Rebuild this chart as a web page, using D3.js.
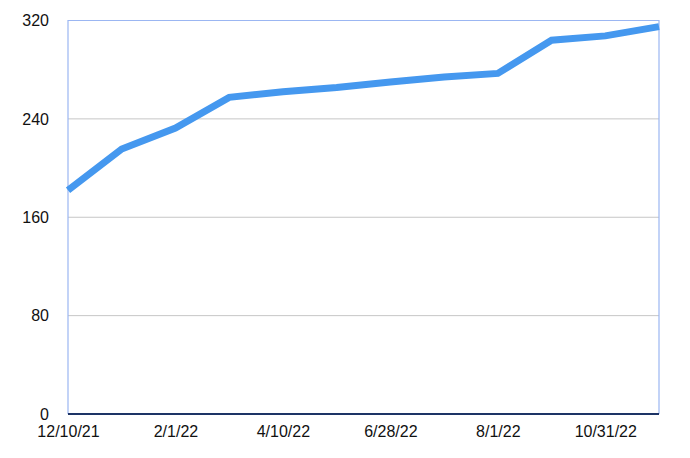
<!DOCTYPE html>
<html>
<head>
<meta charset="utf-8">
<script src="https://cdn.jsdelivr.net/npm/d3@7"></script>
<style>
  html, body { margin: 0; padding: 0; background: #fff; }
  svg { display: block; }
  text { font-family: "Liberation Sans", Arial, Helvetica, sans-serif; }
</style>
</head>
<body>
<svg id="chart" width="690" height="458"></svg>
<script>
// Categories (only every other label is shown in the chart)
const categories = ["12/10/21", "1/5/22", "2/1/22", "3/4/22", "4/10/22", "5/20/22",
                    "6/28/22", "7/15/22", "8/1/22", "9/20/22", "10/31/22", "12/1/22"];
const values = [182, 215.5, 232.5, 257.5, 262, 265.5, 270, 274, 277, 304, 307.5, 315];
const yTicks = [0, 80, 160, 240, 320];
const shownLabels = ["12/10/21", "2/1/22", "4/10/22", "6/28/22", "8/1/22", "10/31/22"];

(function () {
const svg = d3.select("#chart");
const mLeft = 68, mRight = 659, mTop = 20.5, mBottom = 414;

const x = d3.scalePoint().domain(categories).range([mLeft, mRight]);
const y = d3.scaleLinear().domain([0, 320]).range([mBottom, mTop]);

// gridlines
svg.append("g").selectAll("line").data(yTicks.filter(d => d > 0 && d < 320)).join("line")
  .attr("x1", mLeft).attr("x2", mRight)
  .attr("y1", d => y(d)).attr("y2", d => y(d))
  .attr("stroke", "#c6c6c6").attr("stroke-width", 1);

// plot border (top, left, right)
svg.append("path")
  .attr("d", `M${mLeft},${mBottom}V${mTop}H${mRight}V${mBottom}`)
  .attr("fill", "none").attr("stroke", "#9bb6f2").attr("stroke-width", 1.2);

// y axis labels
const yAxis = d3.axisLeft(y).tickValues(yTicks).tickSize(0).tickPadding(19);
const gy = svg.append("g").attr("transform", `translate(${mLeft},0)`).call(yAxis);
gy.select(".domain").remove();
gy.selectAll("text").attr("font-size", 16).attr("fill", "#111")
  .style("font-family", '"Liberation Sans", Arial, sans-serif');

// x axis
const xAxis = d3.axisBottom(x).tickValues(shownLabels).tickSize(0).tickPadding(12);
const gx = svg.append("g").attr("transform", `translate(0,${mBottom})`).call(xAxis);
gx.select(".domain").attr("stroke", "#1d3466").attr("stroke-width", 2)
  .attr("d", `M${mLeft},0H${mRight}`);
gx.selectAll("text").attr("font-size", 16).attr("fill", "#111")
  .style("font-family", '"Liberation Sans", Arial, sans-serif');

// line
const line = d3.line().x((d, i) => x(categories[i])).y(d => y(d));
svg.append("path").datum(values)
  .attr("d", line)
  .attr("fill", "none")
  .attr("stroke", "#4598ef")
  .attr("stroke-width", 7)
  .attr("stroke-linejoin", "miter")
  .attr("stroke-linecap", "butt");
})();
</script>
</body>
</html>
